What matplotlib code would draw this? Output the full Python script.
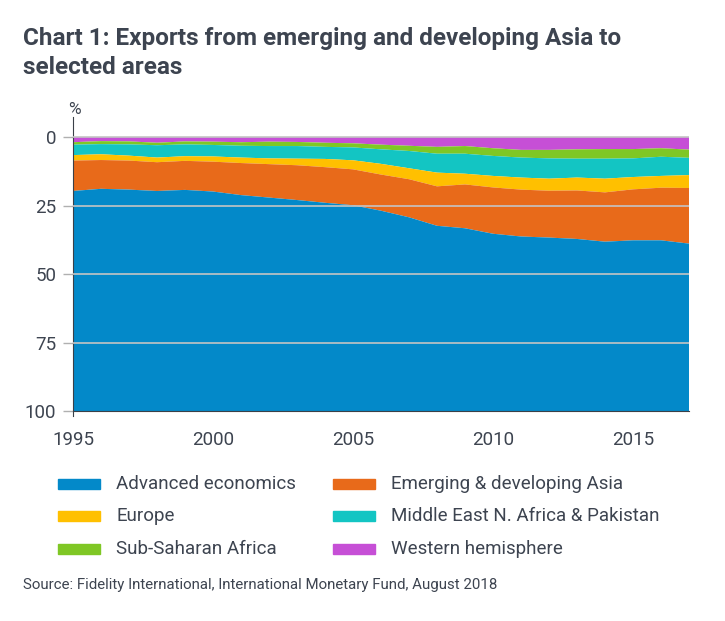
import matplotlib
matplotlib.use("Agg")
import matplotlib.pyplot as plt
from matplotlib.patches import Rectangle

years = list(range(1995, 2018))

# shares of exports (%)
western_hemisphere = [1.9, 1.5, 1.6, 2.1, 1.6, 1.7, 1.9, 1.7, 1.8, 2.1, 2.3, 2.8,
                      3.2, 3.6, 3.3, 4.1, 4.7, 4.7, 4.5, 4.4, 4.4, 4.1, 4.6]
sub_saharan = [0.9, 1.1, 1.1, 0.9, 1.1, 1.2, 1.3, 1.6, 1.5, 1.5, 1.5, 1.7,
               1.9, 2.5, 2.8, 2.8, 2.8, 3.1, 3.4, 3.5, 3.4, 3.1, 3.0]
menap = [3.8, 3.7, 4.1, 4.5, 4.3, 4.2, 4.3, 4.5, 4.6, 4.4, 4.7, 5.3,
         6.3, 6.9, 7.3, 7.3, 7.3, 7.4, 6.9, 7.3, 6.8, 7.0, 6.3]
europe = [2.0, 2.1, 1.8, 1.7, 1.7, 1.9, 2.0, 2.1, 2.4, 3.0, 3.3, 3.9,
          4.0, 5.0, 3.9, 4.2, 4.4, 4.4, 4.7, 5.0, 4.5, 4.3, 4.7]
emerging_asia = [11.1, 10.5, 10.6, 10.5, 10.6, 10.9, 11.7, 12.2, 12.7, 13.0, 13.1, 13.2,
                 13.9, 14.4, 16.0, 16.9, 17.1, 17.1, 17.7, 18.0, 18.6, 19.2, 20.3]
advanced = [80.3, 81.1, 80.8, 80.3, 80.7, 80.1, 78.8, 77.9, 77.0, 76.0, 75.1, 73.1,
            70.7, 67.6, 66.7, 64.7, 63.7, 63.3, 62.8, 61.8, 62.3, 62.3, 61.1]

# legend order (row by row)
labels = ["Advanced economics", "Emerging & developing Asia", "Europe",
          "Middle East N. Africa & Pakistan", "Sub-Saharan Africa", "Western hemisphere"]
series = [advanced, emerging_asia, europe, menap, sub_saharan, western_hemisphere]
colors = ["#0389c9", "#e86a1a", "#ffc000", "#13c5c3", "#7fc725", "#c64fd6"]

text_col = "#3d4450"
plt.rcParams["font.family"] = ["Roboto", "DejaVu Sans"]

fig = plt.figure(figsize=(7.25, 6.21), dpi=100)
ax = fig.add_axes([73 / 725, 1 - 416 / 621, 616 / 725, 299 / 621])

# stacked from the top (0) downwards: Western hemisphere first
order = [5, 4, 3, 2, 1, 0]
ax.stackplot(years, *[series[i] for i in order], colors=[colors[i] for i in order],
             linewidth=0, zorder=1)

ax.set_xlim(1995, 2017)
ax.set_ylim(101.8, -7.3)
ax.set_yticks([0, 25, 50, 75, 100])
ax.set_xticks([1995, 2000, 2005, 2010, 2015])
for y in [0, 25, 50, 75]:
    ax.axhline(y, color="#c4c4c4", lw=1.2, zorder=3)

for s in ["top", "right"]:
    ax.spines[s].set_visible(False)
ax.spines["bottom"].set_position(("data", 100))
ax.spines["bottom"].set_color("#3a4048")
ax.spines["left"].set_color("#3a4048")
ax.spines["bottom"].set_zorder(4)

ax.tick_params(axis="y", length=7, width=1, color="#b0b0b0", pad=5,
               labelsize=13.5, labelcolor=text_col)
ax.tick_params(axis="x", length=0, pad=14, labelsize=13.5, labelcolor=text_col)
ax.text(0.003, 1.0, "%", transform=ax.transAxes, ha="center", va="bottom",
        fontsize=12.5, color=text_col)

fig.text(23 / 725, 1 - 38 / 621, "Chart 1: Exports from emerging and developing Asia to",
         fontsize=17.5, fontweight="bold", color=text_col, va="center")
fig.text(23 / 725, 1 - 68 / 621, "selected areas",
         fontsize=17.5, fontweight="bold", color=text_col, va="center")

# legend, two columns
for i, (lab, c) in enumerate(zip(labels, colors)):
    col, row = i % 2, i // 2
    x0 = [58, 333][col]
    yc = [484, 516, 549][row]
    fig.patches.append(Rectangle((x0 / 725, 1 - (yc + 5) / 621), 42 / 725, 10 / 621,
                                 transform=fig.transFigure, color=c))
    fig.text((x0 + 58) / 725, 1 - yc / 621, lab, fontsize=13.5, color=text_col,
             va="center")

fig.text(23 / 725, 1 - 585 / 621,
         "Source: Fidelity International, International Monetary Fund, August 2018",
         fontsize=10.8, color=text_col, va="center")

fig.savefig("out.png", dpi=100)
